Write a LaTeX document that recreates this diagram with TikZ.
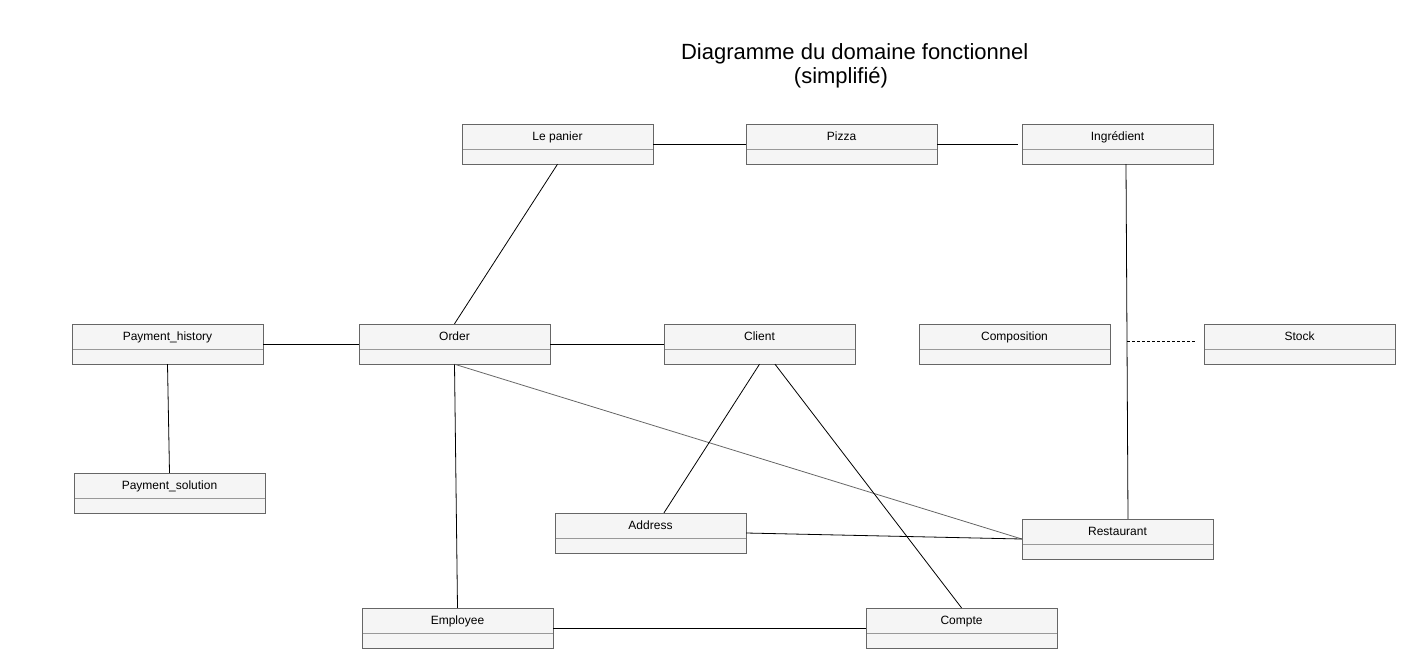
\documentclass[tikz,border=0pt]{standalone}
\usepackage{fontspec}
\setmainfont{Liberation Sans}
\usepackage{xcolor}
\usepackage{tikz}
\usetikzlibrary{positioning}

\definecolor{boxfill}{HTML}{F5F5F5}
\definecolor{boxline}{HTML}{666666}
\definecolor{sepline}{HTML}{999999}

\begin{document}
\begin{tikzpicture}[x=1pt, y=-1pt, every node/.style={font=\fontsize{12}{14}\selectfont},
    classbox/.style={rectangle, draw=boxline, fill=boxfill, minimum width=191pt, inner sep=0pt,
        text height=16.3pt, text depth=23.7pt,
        path picture={\draw[sepline] ([yshift=-25pt]path picture bounding box.north west) -- ([yshift=-25pt]path picture bounding box.north east);}},
    assoc/.style={draw=black, line width=0.8pt}]
    \useasboundingbox (0,0) rectangle (1425,665);
    % title
    \node[anchor=base, font=\fontsize{22}{26}\selectfont] (title) at (854.7,59.3) {Diagramme du domaine fonctionnel};
    \node[anchor=base, font=\fontsize{22}{26}\selectfont] (subtitle) at (841,83) {(simplifié)};
    % classes
    \node[classbox] (panier) at (557.5,144) {Le panier};
    \node[classbox] (pizza) at (841.5,144) {Pizza};
    \node[classbox] (ingredient) at (1117.5,144) {Ingrédient};
    \node[classbox] (payhistory) at (167.5,344) {Payment\_history};
    \node[classbox] (order) at (454.5,344) {Order};
    \node[classbox] (client) at (759.5,344) {Client};
    \node[classbox] (composition) at (1014.5,344) {Composition};
    \node[classbox] (stock) at (1299.5,344) {Stock};
    \node[classbox] (paysolution) at (169.5,493) {Payment\_solution};
    \node[classbox] (address) at (650.5,533) {Address};
    \node[classbox] (restaurant) at (1117.5,539) {Restaurant};
    \node[classbox] (employee) at (457.5,628) {Employee};
    \node[classbox] (compte) at (961.5,628) {Compte};
    % associations
    \draw[assoc] (panier) -- (pizza);
    \draw[assoc] (pizza) -- ([xshift=-4pt]ingredient.west);
    \draw[assoc] (panier.south) -- (order.north);
    \draw[assoc] ([xshift=8.5pt]ingredient.south) -- coordinate[pos=0.5] (stocklink) ([xshift=10.5pt]restaurant.north);
    \draw[assoc, dashed, dash pattern=on 3pt off 2pt] (stocklink) -- ([xshift=-7pt]stock.west |- stocklink);
    \draw[assoc] (payhistory) -- (order);
    \draw[assoc] (order) -- (client);
    \draw[assoc] (payhistory.south) -- (paysolution.north);
    \draw[assoc] (order.south) -- (employee.north);
    \draw[assoc, draw=boxline] (order.south) -- (restaurant.west);
    \draw[assoc] (client.south) -- ([xshift=13.5pt]address.north);
    \draw[assoc] ([xshift=15.5pt]client.south) -- (compte.north);
    \draw[assoc] (address.east) -- (restaurant.west);
    \draw[assoc] (employee) -- (compte);
\end{tikzpicture}
\end{document}
